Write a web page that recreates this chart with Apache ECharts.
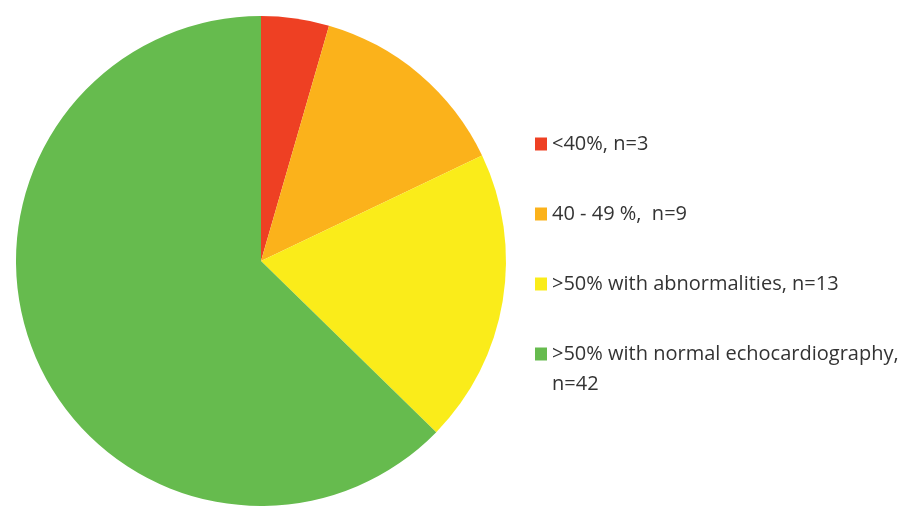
<!DOCTYPE html>
<html>
<head>
<meta charset="utf-8">
<script src="https://cdn.jsdelivr.net/npm/echarts@6/dist/echarts.min.js"></script>
<style>
  html, body { margin: 0; padding: 0; background: #ffffff; }
  #chart { width: 905px; height: 509px; }
</style>
</head>
<body>
<div id="chart"></div>
<script>
// Ejection fraction groups and patient counts
const groups = ['<40%,', '40 - 49 %, ', '>50% with abnormalities,', '>50% with normal echocardiography,'];
const counts = [3, 9, 13, 42];
const colors = ['#EE4023', '#FBB21B', '#FAEC1A', '#66BB4E'];

// Legend names carry the count; the longest one wraps onto a second line
const names = groups.map((g, i) => i === groups.length - 1 ? g + '\nn=' + counts[i] : g + ' n=' + counts[i]);

const chart = echarts.init(document.getElementById('chart'), null, { renderer: 'canvas' });

// Every legend entry gets the same 90px box; the wrapped entry uses an empty
// leading line so its swatch stays level with its first line of text.
const legendData = names.map(n => ({
  name: n,
  textStyle: { padding: n.indexOf('\n') >= 0 ? 0 : [30, 0, 30, 0] }
}));

chart.setOption({
  animation: false,
  color: colors,
  legend: {
    orient: 'vertical',
    left: 530,
    top: 94,
    padding: 5,
    itemGap: -20,
    itemWidth: 12,
    itemHeight: 13,
    icon: 'rect',
    selectedMode: false,
    data: legendData,
    formatter: n => (n.indexOf('\n') >= 0 ? '\n' + n : n),
    textStyle: {
      fontFamily: 'Open Sans',
      fontSize: 20,
      color: '#333333',
      lineHeight: 30
    }
  },
  series: [{
    type: 'pie',
    center: [261, 261],
    radius: 245,
    startAngle: 90,
    clockwise: true,
    label: { show: false },
    labelLine: { show: false },
    emphasis: { disabled: true },
    itemStyle: { borderWidth: 0 },
    data: names.map((n, i) => ({ name: n, value: counts[i] }))
  }]
});
</script>
</body>
</html>
